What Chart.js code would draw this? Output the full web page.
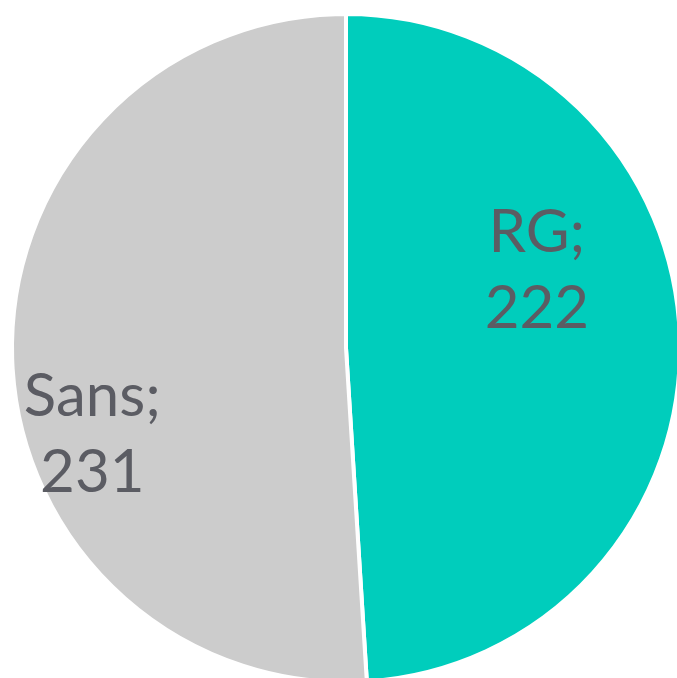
<!DOCTYPE html>
<html>
<head>
<meta charset="utf-8">
<script src="https://cdn.jsdelivr.net/npm/chart.js@4"></script>
<style>
  html, body { margin: 0; padding: 0; background: #fff; overflow: hidden; }
  #wrap { position: absolute; left: 0; top: 0; width: 692px; height: 696px; }
</style>
</head>
<body>
<div id="wrap"><canvas id="pie"></canvas></div>
<script>
const labels = ["RG", "Sans"];
const values = [222, 231];
const colors = ["#00CDBC", "#CCCCCC"];
// label placement inside each slice: fraction of radius, angle shift (deg)
const labelRadius = [0.62, 0.80];
const labelShift = [-21, -16.5];

// draws "Name;\nvalue" inside each slice
const sliceLabels = {
    id: "sliceLabels",
    afterDatasetsDraw(chart) {
        const ctx = chart.ctx;
        const arcs = chart.getDatasetMeta(0).data;
        ctx.save();
        ctx.font = "60px Lato";
        ctx.fillStyle = "#5b5c63";
        ctx.textAlign = "center";
        ctx.textBaseline = "alphabetic";
        arcs.forEach((arc, i) => {
            const p = arc.getProps(["x", "y", "startAngle", "endAngle", "outerRadius"], true);
            const mid = (p.startAngle + p.endAngle) / 2 + labelShift[i] * Math.PI / 180;
            const r = p.outerRadius * labelRadius[i];
            const x = p.x + Math.cos(mid) * r;
            const y = p.y + Math.sin(mid) * r;
            ctx.fillText(labels[i] + ";", x, y - 16);
            ctx.fillText(String(values[i]), x, y + 60);
        });
        ctx.restore();
    }
};

new Chart(document.getElementById("pie"), {
    type: "pie",
    data: {
        labels: labels,
        datasets: [{
            data: values,
            backgroundColor: colors,
            borderColor: "#ffffff",
            borderWidth: 4
        }]
    },
    options: {
        responsive: true,
        maintainAspectRatio: false,
        animation: false,
        layout: { padding: 10 },
        plugins: {
            legend: { display: false },
            tooltip: { enabled: false }
        }
    },
    plugins: [sliceLabels]
});
</script>
</body>
</html>
